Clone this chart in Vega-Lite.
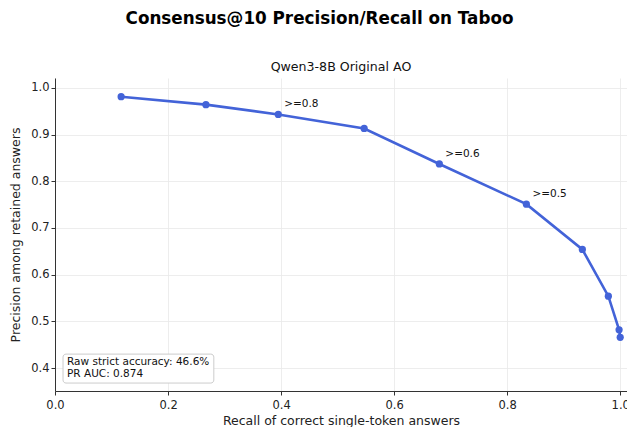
{
  "$schema": "https://vega.github.io/schema/vega-lite/v6.json",
  "padding": {"left": 9, "top": 11, "right": 0, "bottom": 0},
  "background": "white",
  "config": {
    "font": "DejaVu Sans",
    "view": {"stroke": null},
    "axis": {
      "domainColor": "#333333", "tickColor": "#333333", "tickSize": 4,
      "labelColor": "#222222", "titleColor": "#222222",
      "labelFontSize": 11.5, "titleFontSize": 12.5, "titleFontWeight": "normal",
      "gridColor": "#e8e8e8", "gridWidth": 0.8, "labelFont": "DejaVu Sans", "titleFont": "DejaVu Sans"
    }
  },
  "title": {"text": "Consensus@10 Precision/Recall on Taboo", "fontSize": 16.8, "fontWeight": "bold", "anchor": "middle", "frame": "bounds", "offset": 33.5, "color": "#000000", "font": "DejaVu Sans"},
  "vconcat": [
    {
      "width": 572,
      "height": 313,
      "title": {"text": "Qwen3-8B Original AO", "fontSize": 12.6, "fontWeight": "normal", "anchor": "middle", "frame": "group", "offset": 4, "color": "#111111", "font": "DejaVu Sans"},
      "data": {"values": [
        {"recall": 0.117, "precision": 0.981, "label": null},
        {"recall": 0.267, "precision": 0.964, "label": null},
        {"recall": 0.395, "precision": 0.943, "label": ">=0.8"},
        {"recall": 0.547, "precision": 0.913, "label": null},
        {"recall": 0.680, "precision": 0.837, "label": ">=0.6"},
        {"recall": 0.834, "precision": 0.751, "label": ">=0.5"},
        {"recall": 0.933, "precision": 0.654, "label": null},
        {"recall": 0.979, "precision": 0.554, "label": null},
        {"recall": 0.998, "precision": 0.482, "label": null},
        {"recall": 1.0, "precision": 0.466, "label": null}
      ]},
      "encoding": {
        "x": {"field": "recall", "type": "quantitative", "scale": {"domain": [0, 1.012], "nice": false, "zero": false},
              "axis": {"title": "Recall of correct single-token answers", "values": [0, 0.2, 0.4, 0.6, 0.8, 1.0], "format": ".1f", "labelFlush": false, "labelPadding": 4, "titlePadding": 4}},
        "y": {"field": "precision", "type": "quantitative", "scale": {"domain": [0.351, 1.021], "nice": false, "zero": false},
              "axis": {"title": "Precision among retained answers", "values": [0.4, 0.5, 0.6, 0.7, 0.8, 0.9, 1.0], "format": ".1f", "titlePadding": 8}}
      },
      "layer": [
        {"mark": {"type": "line", "color": "#4363d8", "strokeWidth": 2.6}},
        {"mark": {"type": "point", "filled": true, "color": "#4363d8", "opacity": 1, "size": 52}},
        {"transform": [{"filter": "datum.label != null"}],
         "mark": {"type": "text", "align": "left", "baseline": "middle", "dx": 6, "dy": -10, "fontSize": 10.5, "color": "#111111"},
         "encoding": {"text": {"field": "label"}}},
        {"transform": [{"filter": "datum.label == '>=0.8'"}],
         "mark": {"type": "rect", "fill": "white", "stroke": "#cccccc", "strokeWidth": 1, "cornerRadius": 3},
         "encoding": {"x": {"datum": 0.0142}, "x2": {"datum": 0.281}, "y": {"datum": 0.430}, "y2": {"datum": 0.368}}},
        {"transform": [{"filter": "datum.label == '>=0.8'"}],
         "mark": {"type": "text", "align": "left", "baseline": "middle", "fontSize": 10.5, "lineHeight": 11.5, "color": "#111111"},
         "encoding": {"x": {"datum": 0.0212}, "y": {"datum": 0.4125}, "text": {"value": ["Raw strict accuracy: 46.6%", "PR AUC: 0.874"]}}}
      ]
    }
  ]
}
